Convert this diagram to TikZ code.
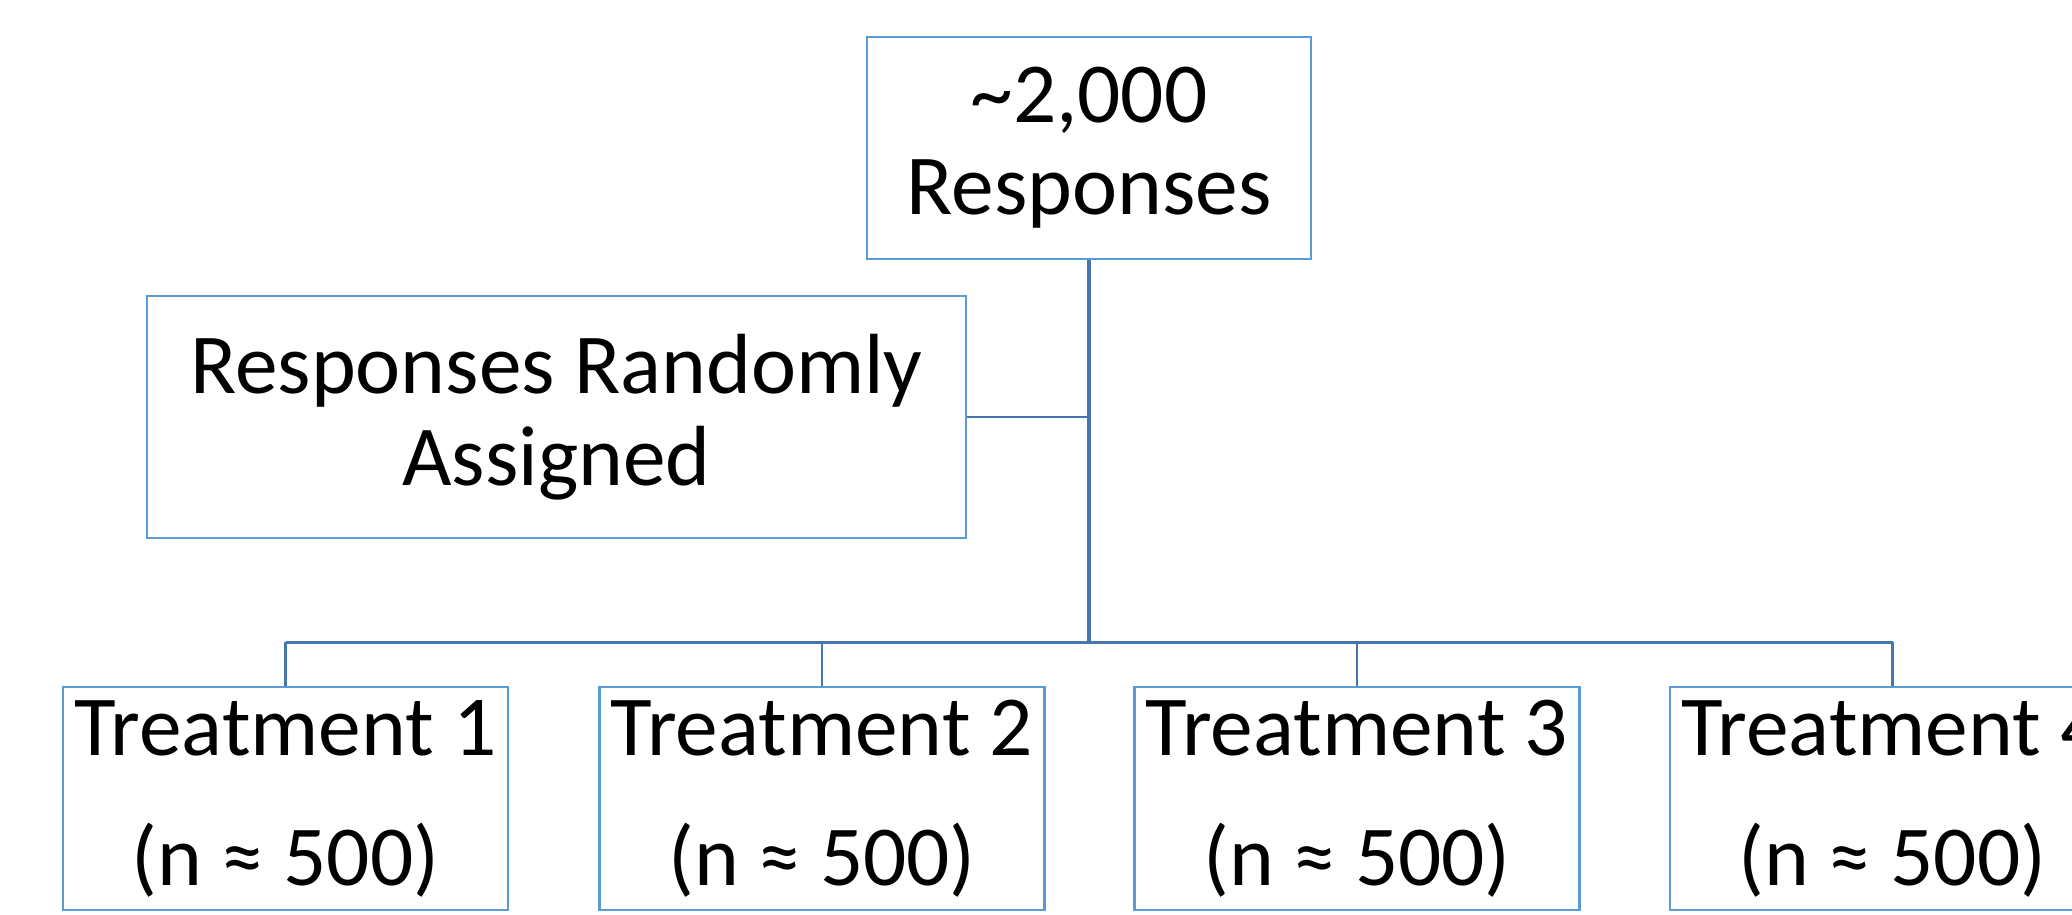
\documentclass[tikz,border=0pt]{standalone}
\usepackage{fontspec}
\setmainfont{Carlito}
\definecolor{boxblue}{HTML}{5B9BD5}
\definecolor{linkblue}{HTML}{4676AE}
\begin{document}
\begin{tikzpicture}[x=0.5pt,y=-0.5pt,
  box/.style={draw=boxblue, line width=1.35pt, fill=white, inner sep=0pt, align=center,
    font=\fontsize{42.7}{46}\selectfont},
  treat/.style={box, minimum width=222.5pt, minimum height=111.5pt,
    font=\fontsize{42.7}{65}\selectfont},
  trunkline/.style={draw=linkblue, line width=2pt},
  busline/.style={draw=linkblue, line width=1.5pt},
  stubline/.style={draw=linkblue, line width=1.2pt}]
\useasboundingbox (0,0) rectangle (2072,915);
\clip (0,0) rectangle (2072,915);
\fill[white] (0,0) rectangle (2072,915);
\node[box, minimum width=222pt, minimum height=111pt] (top) at (1089,148) {\textasciitilde 2,000\\Responses};
\node[box, minimum width=409.5pt, minimum height=121pt] (left) at (556.5,417) {Responses Randomly\\Assigned};
\node[treat] (t1) at (285.5,798.5) {Treatment 1\\(n ≈ 500)};
\node[treat] (t2) at (822,798.5) {Treatment 2\\(n ≈ 500)};
\node[treat] (t3) at (1357,798.5) {Treatment 3\\(n ≈ 500)};
\node[treat] (t4) at (1892.5,798.5) {Treatment 4\\(n ≈ 500)};
\coordinate (bus) at (1089,642);
\draw[busline] (t1.north |- bus) -- (t4.north |- bus);
\draw[trunkline] (top.south) -- (bus);
\draw[stubline] (left.east) -- (left.east -| bus);
\draw[stubline] (t1.north) -- (t1.north |- bus);
\draw[stubline] (t2.north) -- (t2.north |- bus);
\draw[stubline] (t3.north) -- (t3.north |- bus);
\draw[stubline] (t4.north) -- (t4.north |- bus);
\end{tikzpicture}
\end{document}
